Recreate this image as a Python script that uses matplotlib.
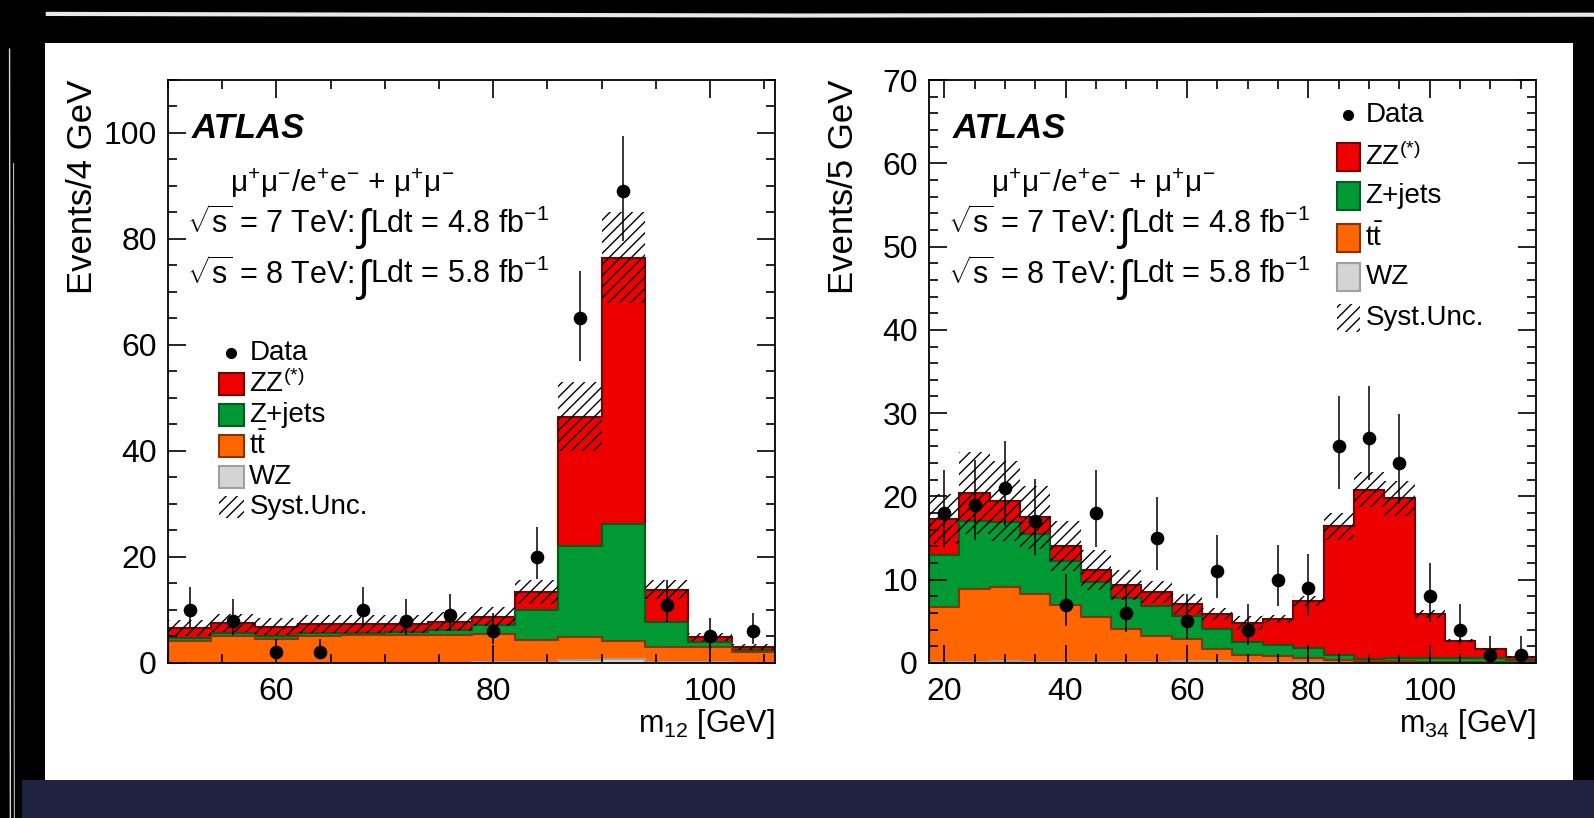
import matplotlib
matplotlib.use("Agg")
import matplotlib.pyplot as plt
import matplotlib.ticker as ticker
from matplotlib.patches import Rectangle
from matplotlib.lines import Line2D
from matplotlib.transforms import IdentityTransform
import numpy as np

plt.rcParams["font.family"] = ["Liberation Sans", "DejaVu Sans"]
plt.rcParams["mathtext.fontset"] = "custom"
plt.rcParams["mathtext.rm"] = "Liberation Sans"
plt.rcParams["mathtext.it"] = "Liberation Sans:italic"
plt.rcParams["mathtext.bf"] = "Liberation Sans:bold"
plt.rcParams["hatch.linewidth"] = 1.0
plt.rcParams["hatch.color"] = "black"

# ---- m12 panel (4 GeV bins) ----
m12_edges = np.arange(50, 107, 4)
m12_centers = np.arange(52, 106, 4)
m12_wz = [0.05, 0.05, 0.05, 0.05, 0.05, 0.05, 0.05, 0.1, 0.2, 0.5, 0.8, 0.2, 0.1, 0.05]
m12_tt = [4.15, 5.05, 4.45, 4.95, 5.15, 5.15, 5.15, 5.3, 4.2, 4.4, 3.4, 2.8, 2.9, 2.05]
m12_zjets = [0.5, 0.6, 0.6, 0.6, 0.4, 0.7, 1.0, 1.7, 5.6, 17.1, 22.1, 4.8, 1.0, 0.3]
m12_zz = [1.9, 1.8, 1.7, 1.7, 1.7, 1.4, 1.6, 1.6, 3.4, 24.5, 50.2, 6.0, 0.9, 0.6]
m12_syst = [1.6, 1.7, 1.6, 1.7, 1.7, 1.7, 1.8, 1.8, 2.2, 6.5, 8.5, 1.8, 0.8, 0.5]
m12_data = [10, 8, 2, 2, 10, 8, 9, 6, 20, 65, 89, 11, 5, 6]
m12_err_hi = [4.4, 4.0, 2.6, 2.6, 4.4, 4.0, 4.1, 3.5, 5.6, 9.0, 10.4, 4.6, 3.4, 3.5]
m12_err_lo = [3.2, 2.8, 1.3, 1.3, 3.2, 2.8, 3.0, 2.4, 4.2, 8.0, 9.4, 3.3, 2.2, 2.4]

# ---- m34 panel (5 GeV bins) ----
m34_edges = np.arange(17.5, 118, 5)
m34_centers = np.arange(20, 116, 5)
m34_wz = [0.1, 0.15, 0.2, 0.15, 0.1, 0.1, 0.1, 0.15, 0.2, 0.2, 0.15, 0.1, 0.1, 0.05, 0.05, 0.05, 0.05, 0.05, 0.05, 0.05]
m34_tt = [6.6, 8.75, 8.9, 8.15, 6.9, 5.4, 4.0, 3.15, 2.7, 1.5, 0.85, 0.7, 0.5, 0.25, 0.15, 0.15, 0.05, 0.05, 0.05, 0.05]
m34_zjets = [6.3, 8.2, 7.8, 7.2, 5.3, 4.2, 3.7, 3.6, 2.7, 2.4, 1.5, 1.3, 1.2, 0.6, 0.3, 0.4, 0.5, 0.5, 0.5, 0.3]
m34_zz = [4.3, 3.3, 2.5, 2.0, 1.8, 1.5, 1.6, 1.6, 1.5, 1.8, 2.3, 3.2, 5.7, 15.5, 20.3, 19.2, 5.3, 2.1, 1.1, 0.3]
m34_syst = [3.0, 4.9, 4.8, 3.8, 3.0, 2.4, 1.8, 1.3, 1.2, 0.7, 0.8, 0.5, 0.6, 1.6, 2.1, 2.1, 0.5, 0.2, 0.1, 0.1]
m34_data = [18, 19, 21, 17, 7, 18, 6, 15, 5, 11, 4, 10, 9, 26, 27, 24, 8, 4, 1, 1]
m34_err_hi = [5.2, 5.4, 5.6, 5.1, 3.7, 5.2, 3.5, 4.9, 3.3, 4.4, 3.1, 4.2, 4.1, 6.1, 6.3, 5.9, 4.0, 3.1, 2.3, 2.3]
m34_err_lo = [4.1, 4.2, 4.6, 4.0, 2.5, 4.1, 2.3, 3.8, 2.1, 3.2, 1.9, 3.1, 3.3, 5.1, 5.0, 4.9, 3.1, 1.9, 0.9, 0.9]

leg_labels = ["Data", r"ZZ$^{(*)}$", "Z+jets", r"t$\bar{\mathrm{t}}$", "WZ", "Syst.Unc."]
fill_colors = ["#ee0000", "#009933", "#ff6600", "#d4d4d4"]
line_colors = ["#7a0000", "#005c1f", "#8b3300", "#a0a0a0"]
runs = [("7", "4.8"), ("8", "5.8")]


def draw_stack(ax, edges, centers, wz, tt, zjets, zz, syst, data, lo, hi):
    c_wz = np.array(wz)
    c_tt = c_wz + np.array(tt)
    c_zj = c_tt + np.array(zjets)
    c_zz = c_zj + np.array(zz)
    for top, fc, ec in zip([c_zz, c_zj, c_tt, c_wz], fill_colors, line_colors):
        ax.stairs(top, edges, baseline=0, fill=True, facecolor=fc, lw=0, zorder=1)
        ax.stairs(top, edges, baseline=0, fill=False, color=ec, lw=1.5, zorder=1.1)
    syst = np.array(syst)
    ax.stairs(c_zz + syst, edges, baseline=c_zz - syst, fill=True,
              facecolor="none", edgecolor="black", hatch="///", lw=0, zorder=2)
    ax.errorbar(centers, data, yerr=[lo, hi], fmt="o", color="black", ms=8.8,
                elinewidth=1.1, capsize=0, zorder=3, clip_on=False)


def draw_legend(ax, xdot, xbox, bw, bh, rows, fs):
    tr = ax.transAxes
    ax.plot([xdot], [rows[0]], "o", color="black", ms=7, transform=tr, clip_on=False, zorder=5)
    xt = xbox + bw + 0.009
    ax.text(xt, rows[0], leg_labels[0], transform=tr, fontsize=fs, va="center", ha="left", zorder=5)
    for i in range(4):
        ax.add_patch(Rectangle((xbox, rows[i + 1] - bh / 2), bw, bh, transform=tr,
                               facecolor=fill_colors[i], edgecolor=line_colors[i], lw=1.5, zorder=5))
        ax.text(xt, rows[i + 1], leg_labels[i + 1], transform=tr, fontsize=fs, va="center", ha="left", zorder=5)
    ax.add_patch(Rectangle((xbox, rows[5] - bh / 2), bw, bh, transform=tr, facecolor="none",
                           edgecolor="black", hatch="///", lw=0, zorder=5))
    ax.text(xt, rows[5], leg_labels[5], transform=tr, fontsize=fs, va="center", ha="left", zorder=5)


def draw_texts(ax, renderer):
    tr = ax.transAxes
    ax.text(0.039, 0.917, "ATLAS", transform=tr, fontsize=25, fontweight="bold",
            fontstyle="italic", va="center", zorder=5)
    ax.text(0.102, 0.823, r"$\mathrm{\mu^{+}\mu^{-}}$/e$^{+}$e$^{-}$ + $\mathrm{\mu^{+}\mu^{-}}$",
            transform=tr, fontsize=21.5, va="center", zorder=5)
    # luminosity lines: tall integral sign drawn as its own piece
    fs = 22
    for (energy, lumi), yb in zip(runs, [0.737, 0.651]):
        t1 = ax.text(0.031, yb, r"$\sqrt{\mathrm{s}}$ = " + energy + " TeV:", transform=tr,
                     fontsize=fs, va="baseline", zorder=5)
        x1 = t1.get_window_extent(renderer).x1
        y0 = tr.transform((0.031, yb))[1]
        t2 = ax.text(x1 + 3, y0 - 7, "\u222b", transform=IdentityTransform(),
                     fontsize=fs * 1.45, va="baseline", zorder=5)
        x2 = t2.get_window_extent(renderer).x1
        ax.text(x2 + 1, y0, "Ldt = " + lumi + r" fb$^{-1}$", transform=IdentityTransform(),
                fontsize=fs, va="baseline", zorder=5)


def style_axes(ax, xmaj, xmin, ymaj, ymin):
    ax.xaxis.set_major_locator(ticker.MultipleLocator(xmaj))
    ax.xaxis.set_minor_locator(ticker.MultipleLocator(xmin))
    ax.yaxis.set_major_locator(ticker.MultipleLocator(ymaj))
    ax.yaxis.set_minor_locator(ticker.MultipleLocator(ymin))
    ax.tick_params(which="both", direction="in", top=True, right=True, width=1.2, labelsize=23)
    ax.tick_params(which="major", length=13)
    ax.tick_params(which="minor", length=6.5)
    ax.tick_params(axis="y", pad=8)
    ax.tick_params(axis="x", pad=10)
    for s in ax.spines.values():
        s.set_linewidth(1.3)
        s.set_zorder(6)


fig = plt.figure(figsize=(15.94, 8.18), dpi=100, facecolor="black")
renderer = fig.canvas.get_renderer()

# slide background, kept behind the axes
fig.add_artist(Rectangle((0.014, 0.0), 0.986, 0.0465, transform=fig.transFigure,
                         facecolor="#1f2240", edgecolor="none", zorder=-3))
fig.add_artist(Rectangle((0.0282, 0.0465), 0.9586, 0.901, transform=fig.transFigure,
                         facecolor="white", edgecolor="none", zorder=-2))
fig.add_artist(Line2D([0.03, 0.5, 1.0], [0.983, 0.981, 0.982], transform=fig.transFigure,
                      color="#e8e8e8", lw=3, zorder=-1))
fig.add_artist(Line2D([0.006, 0.0065], [0.94, 0.0], transform=fig.transFigure,
                      color="#d8d8d8", lw=1.0, zorder=-1))
fig.add_artist(Line2D([0.0085, 0.009], [0.80, 0.0], transform=fig.transFigure,
                      color="#bbbbbb", lw=0.8, zorder=-1))

ax1 = fig.add_axes([0.1054, 0.1895, 0.3808, 0.7127])
ax2 = fig.add_axes([0.5828, 0.1895, 0.3808, 0.7127])

draw_stack(ax1, m12_edges, m12_centers, m12_wz, m12_tt, m12_zjets, m12_zz, m12_syst,
           m12_data, m12_err_lo, m12_err_hi)
ax1.set_xlim(50, 106)
ax1.set_ylim(0, 110)
style_axes(ax1, 20, 5, 20, 5)
draw_texts(ax1, renderer)
draw_legend(ax1, 0.104, 0.084, 0.041, 0.038,
            [0.532, 0.479, 0.425, 0.372, 0.319, 0.268], 20)
ax1.set_ylabel("Events/4 GeV", fontsize=25, loc="top")
ax1.yaxis.set_label_coords(-0.113, 1.0)
ax1.set_xlabel(r"m$_{12}$ [GeV]", fontsize=22, loc="right")
ax1.xaxis.set_label_coords(1.0, -0.075)

draw_stack(ax2, m34_edges, m34_centers, m34_wz, m34_tt, m34_zjets, m34_zz, m34_syst,
           m34_data, m34_err_lo, m34_err_hi)
ax2.set_xlim(17.5, 117.5)
ax2.set_ylim(0, 70)
style_axes(ax2, 20, 5, 10, 2)
draw_texts(ax2, renderer)
draw_legend(ax2, 0.691, 0.672, 0.038, 0.048,
            [0.940, 0.868, 0.801, 0.729, 0.662, 0.592], 20)
ax2.set_ylabel("Events/5 GeV", fontsize=25, loc="top")
ax2.yaxis.set_label_coords(-0.114, 1.0)
ax2.set_xlabel(r"m$_{34}$ [GeV]", fontsize=22, loc="right")
ax2.xaxis.set_label_coords(1.0, -0.075)

fig.savefig("out.png", dpi=100, facecolor=fig.get_facecolor())
